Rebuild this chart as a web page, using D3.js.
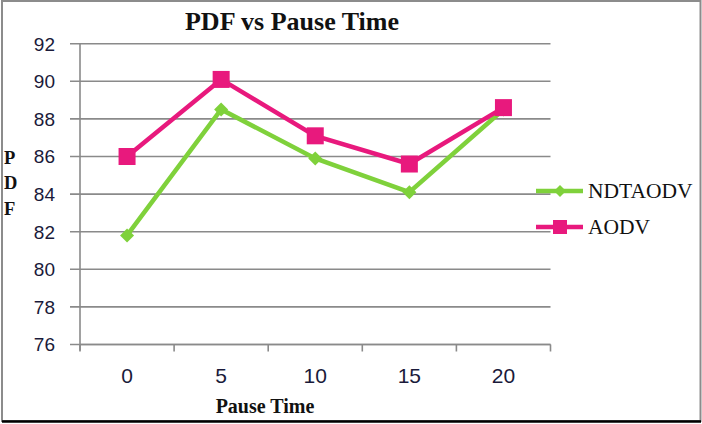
<!DOCTYPE html>
<html><head><meta charset="utf-8">
<script src="https://cdn.jsdelivr.net/npm/d3@7"></script>
<style>body{margin:0;background:#fff}svg{display:block}</style>
</head><body>
<svg id="c" width="702" height="424"></svg>
<script>
const categories = ["0","5","10","15","20"];
const ndtaodv = [81.8, 88.5, 85.9, 84.1, 88.5];
const aodv = [86.0, 90.1, 87.1, 85.6, 88.6];
const yTicks = [76,78,80,82,84,86,88,90,92];
const seriesNames = ["NDTAODV","AODV"];

(function(){
const svg = d3.select("#c");
const green = "#7fd13b", pink = "#e8197d", grid = "#8a8a8a";
const pLeft = 80, pRight = 550.5, pTop = 43.7, pBottom = 344.5;

// border
svg.append("rect").attr("x",2).attr("y",1).attr("width",698.5).attr("height",420)
  .attr("fill","#fff").attr("stroke","#8c8c8c").attr("stroke-width",2);
svg.append("line").attr("x1",2).attr("x2",701).attr("y1",421.5).attr("y2",421.5)
  .attr("stroke","#000").attr("stroke-width",2.5);

const x = d3.scaleBand().domain(categories).range([pLeft, pRight]);
const y = d3.scaleLinear().domain([76,92]).range([pBottom, pTop]);

// gridlines
svg.append("g").selectAll("line").data(yTicks).join("line")
  .attr("x1", pLeft-10).attr("x2", pRight).attr("y1", d=>y(d)).attr("y2", d=>y(d))
  .attr("stroke", grid).attr("stroke-width", 1.6);

// y axis
svg.append("line").attr("x1",pLeft).attr("x2",pLeft).attr("y1",pTop).attr("y2",pBottom+6)
  .attr("stroke",grid).attr("stroke-width",1.6);
svg.append("g").selectAll("text").data(yTicks).join("text")
  .attr("x", 55).attr("y", d=>y(d)).attr("dy","0.36em").attr("text-anchor","end")
  .attr("font-family","Liberation Sans, Arial, sans-serif").attr("font-size",19)
  .attr("fill","#1a1a3a").text(d=>d);

// x axis
svg.append("line").attr("x1",pLeft).attr("x2",pRight).attr("y1",pBottom).attr("y2",pBottom)
  .attr("stroke",grid).attr("stroke-width",1.6);
const xEdges = categories.map(c=>x(c)).concat([pRight]);
svg.append("g").selectAll("line").data(xEdges).join("line")
  .attr("x1",d=>d).attr("x2",d=>d).attr("y1",pBottom).attr("y2",pBottom+7)
  .attr("stroke",grid).attr("stroke-width",1.6);
svg.append("g").selectAll("text").data(categories).join("text")
  .attr("x", d=>x(d)+x.bandwidth()/2).attr("y", 383).attr("text-anchor","middle")
  .attr("font-family","Liberation Sans, Arial, sans-serif").attr("font-size",21)
  .attr("fill","#1a1a3a").text(d=>d);

// titles
svg.append("text").attr("x",292).attr("y",30).attr("text-anchor","middle")
  .attr("font-family","Liberation Serif, Times New Roman, serif").attr("font-weight","bold")
  .attr("font-size",26).attr("fill","#111").text("PDF vs Pause Time");
svg.append("text").attr("x",265).attr("y",413).attr("text-anchor","middle")
  .attr("font-family","Liberation Serif, Times New Roman, serif").attr("font-weight","bold")
  .attr("font-size",20).attr("fill","#111").text("Pause Time");
const yl = svg.append("text").attr("font-family","Liberation Serif, Times New Roman, serif")
  .attr("font-weight","bold").attr("font-size",18.5).attr("fill","#111");
["P","D","F"].forEach((ch,i)=>{
  yl.append("tspan").attr("x",4).attr("y",163.5+i*25.5).text(ch);
});

// lines
const cx = (d,i)=> x(categories[i]) + x.bandwidth()/2;
const line = d3.line().x(cx).y(d=>y(d));
function diamond(g, px, py, s){
  g.append("path").attr("d", `M${px},${py-s}L${px+s},${py}L${px},${py+s}L${px-s},${py}Z`).attr("fill",green);
}
svg.append("path").datum(ndtaodv).attr("d",line).attr("fill","none")
  .attr("stroke",green).attr("stroke-width",4.5).attr("stroke-linejoin","miter");
const gG = svg.append("g");
ndtaodv.forEach((d,i)=>diamond(gG, cx(d,i), y(d), 7));

svg.append("path").datum(aodv).attr("d",line).attr("fill","none")
  .attr("stroke",pink).attr("stroke-width",4.5);
svg.append("g").selectAll("rect").data(aodv).join("rect")
  .attr("x",(d,i)=>cx(d,i)-8.5).attr("y",d=>y(d)-8.5).attr("width",17).attr("height",17)
  .attr("fill",pink);

// legend
const legY = [191, 227];
const colors = [green, pink];
seriesNames.forEach((name,i)=>{
  svg.append("line").attr("x1",536).attr("x2",583).attr("y1",legY[i]).attr("y2",legY[i])
    .attr("stroke",colors[i]).attr("stroke-width",4.5);
  if(i===0) diamond(svg, 560, legY[i], 6);
  else svg.append("rect").attr("x",553).attr("y",legY[i]-7).attr("width",14).attr("height",14).attr("fill",pink);
  svg.append("text").attr("x",588).attr("y",legY[i]+7).attr("font-family","Liberation Serif, Times New Roman, serif")
    .attr("font-size",21.5).attr("fill","#111").text(name);
});
})();
</script>
</body></html>
